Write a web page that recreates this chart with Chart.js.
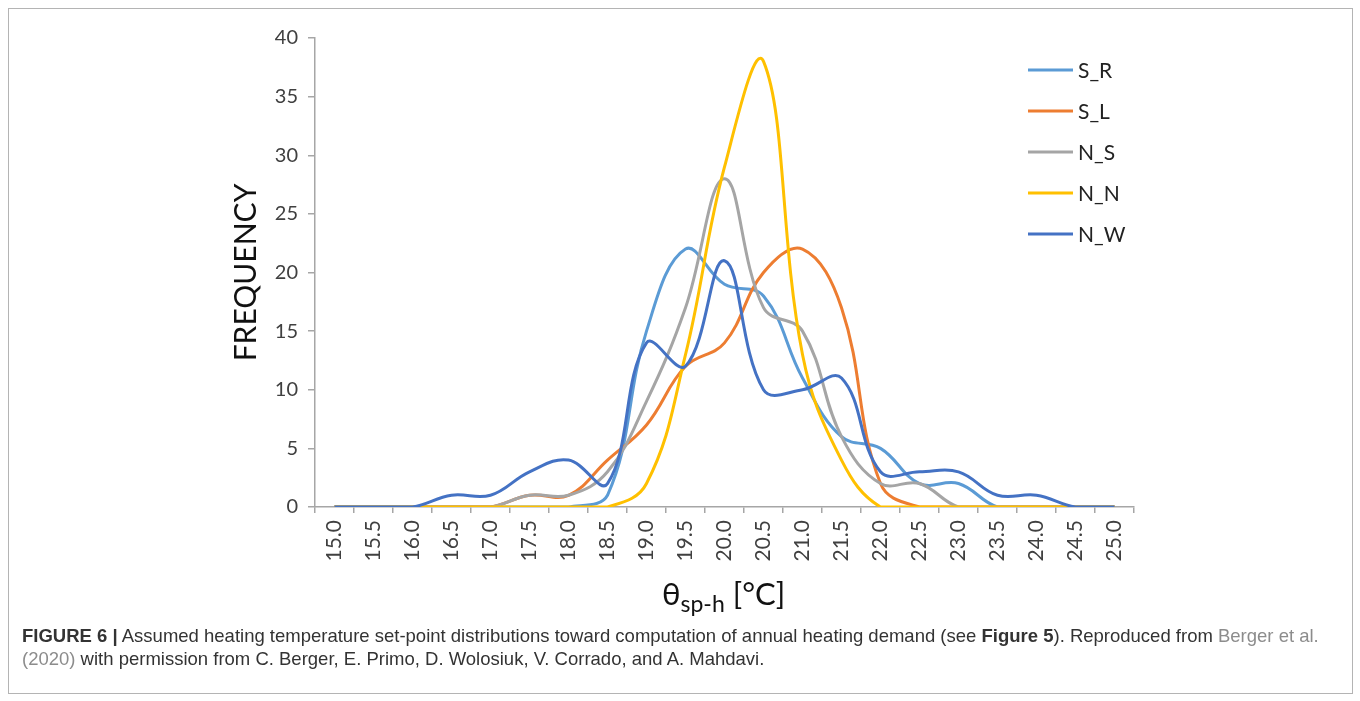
<!DOCTYPE html>
<html><head><meta charset="utf-8">
<script src="https://cdn.jsdelivr.net/npm/chart.js@4/dist/chart.umd.min.js"></script>
<style>
html,body{margin:0;padding:0;background:#fff;}
#frame{position:absolute;left:8px;top:8px;width:1343px;height:684px;border:1px solid #b4b4b4;}
#wrap{position:absolute;left:0;top:0;width:1360px;height:701px;}
#xtitle{position:absolute;left:662px;top:574px;font-family:Lato,sans-serif;font-size:31px;color:#111;white-space:nowrap;}
#xtitle sub{font-size:23px;vertical-align:-7px;}
#caption{position:absolute;left:22px;top:624px;font-family:'Liberation Sans',Arial,sans-serif;font-size:18.5px;line-height:23px;color:#333;white-space:nowrap;}
#caption .g{color:#8c8c8c;}
</style></head>
<body>
<div id="frame"></div>
<div id="wrap"><canvas id="c" width="1360" height="701"></canvas></div>
<div id="xtitle">θ<sub>sp-h</sub> [°C]</div>
<div id="caption"><b>FIGURE 6 |</b> Assumed heating temperature set-point distributions toward computation of annual heating demand (see <b>Figure 5</b>). Reproduced from <span class="g">Berger et al.</span><br><span class="g">(2020)</span> with permission from C. Berger, E. Primo, D. Wolosiuk, V. Corrado, and A. Mahdavi.</div>
<script>
const categories = ["15.0","15.5","16.0","16.5","17.0","17.5","18.0","18.5","19.0","19.5","20.0","20.5","21.0","21.5","22.0","22.5","23.0","23.5","24.0","24.5","25.0"];
const S_R = [0,0,0,0,0,0,0,1,15,22,19,18,11,6,5,2,2,0,0,0,0];
const S_L = [0,0,0,0,0,1,1,4,7,12,14,20,22,17,2,0,0,0,0,0,0];
const N_S = [0,0,0,0,0,1,1,3,9,17,28,17,15,6,2,2,0,0,0,0,0];
const N_N = [0,0,0,0,0,0,0,0,2,13,29,38,13,4,0,0,0,0,0,0,0];
const N_W = [0,0,0,1,1,3,4,2,14,12,21,10,10,11,3,3,3,1,1,0,0];
const seriesNames = ["S_R","S_L","N_S","N_N","N_W"];
const seriesColors = ["#5B9BD5","#ED7D31","#A5A5A5","#FFC000","#4472C4"];
const seriesValues = [S_R,S_L,N_S,N_N,N_W];
const yTicks = {min:0,max:40,step:5};

const legendPlugin = {
  id:'customLegend',
  afterDraw(chart){
    const ctx = chart.ctx;
    chart.data.datasets.forEach((ds,i)=>{
      const y = 70 + i*41;
      ctx.save();
      ctx.strokeStyle = ds.borderColor; ctx.lineWidth = 3;
      ctx.beginPath(); ctx.moveTo(1028,y); ctx.lineTo(1073,y); ctx.stroke();
      ctx.fillStyle = '#222'; ctx.font = '21px Lato'; ctx.textBaseline = 'middle'; ctx.textAlign='left';
      ctx.fillText(ds.label,1078,y+1);
      ctx.restore();
    });
  }
};

new Chart(document.getElementById('c'),{
  type:'line',
  data:{
    labels:categories,
    datasets:seriesNames.map((n,i)=>({
      label:n, data:seriesValues[i], borderColor:seriesColors[i], backgroundColor:seriesColors[i],
      borderWidth:3, pointRadius:0, tension:0.4, fill:false, order:4-i
    }))
  },
  options:{
    responsive:false, animation:false, devicePixelRatio:1,
    layout:{padding:{left:223,top:38,right:226,bottom:0}},
    plugins:{legend:{display:false},tooltip:{enabled:false}},
    scales:{
      x:{
        offset:true,
        grid:{offset:true,drawOnChartArea:false,drawTicks:true,tickLength:6,color:'#a6a6a6',lineWidth:1.5},
        border:{display:true,color:'#a6a6a6',width:1.5},
        ticks:{maxRotation:90,minRotation:90,padding:7,color:'#404040',font:{family:'Lato',size:21},autoSkip:false},
        afterFit(s){ s.height = 194; }
      },
      y:{
        min:yTicks.min,max:yTicks.max,
        grid:{drawOnChartArea:false,drawTicks:true,tickLength:7,color:'#a6a6a6',lineWidth:1.5},
        border:{display:true,color:'#a6a6a6',width:1.5},
        ticks:{stepSize:yTicks.step,padding:10,color:'#404040',font:{family:'Lato',size:20}},
        title:{display:true,text:'FREQUENCY',color:'#111',font:{family:'Lato',size:30},padding:{top:5,bottom:4}},
        afterFit(s){ s.width = 92; }
      }
    }
  },
  plugins:[legendPlugin]
});
</script>
</body></html>
